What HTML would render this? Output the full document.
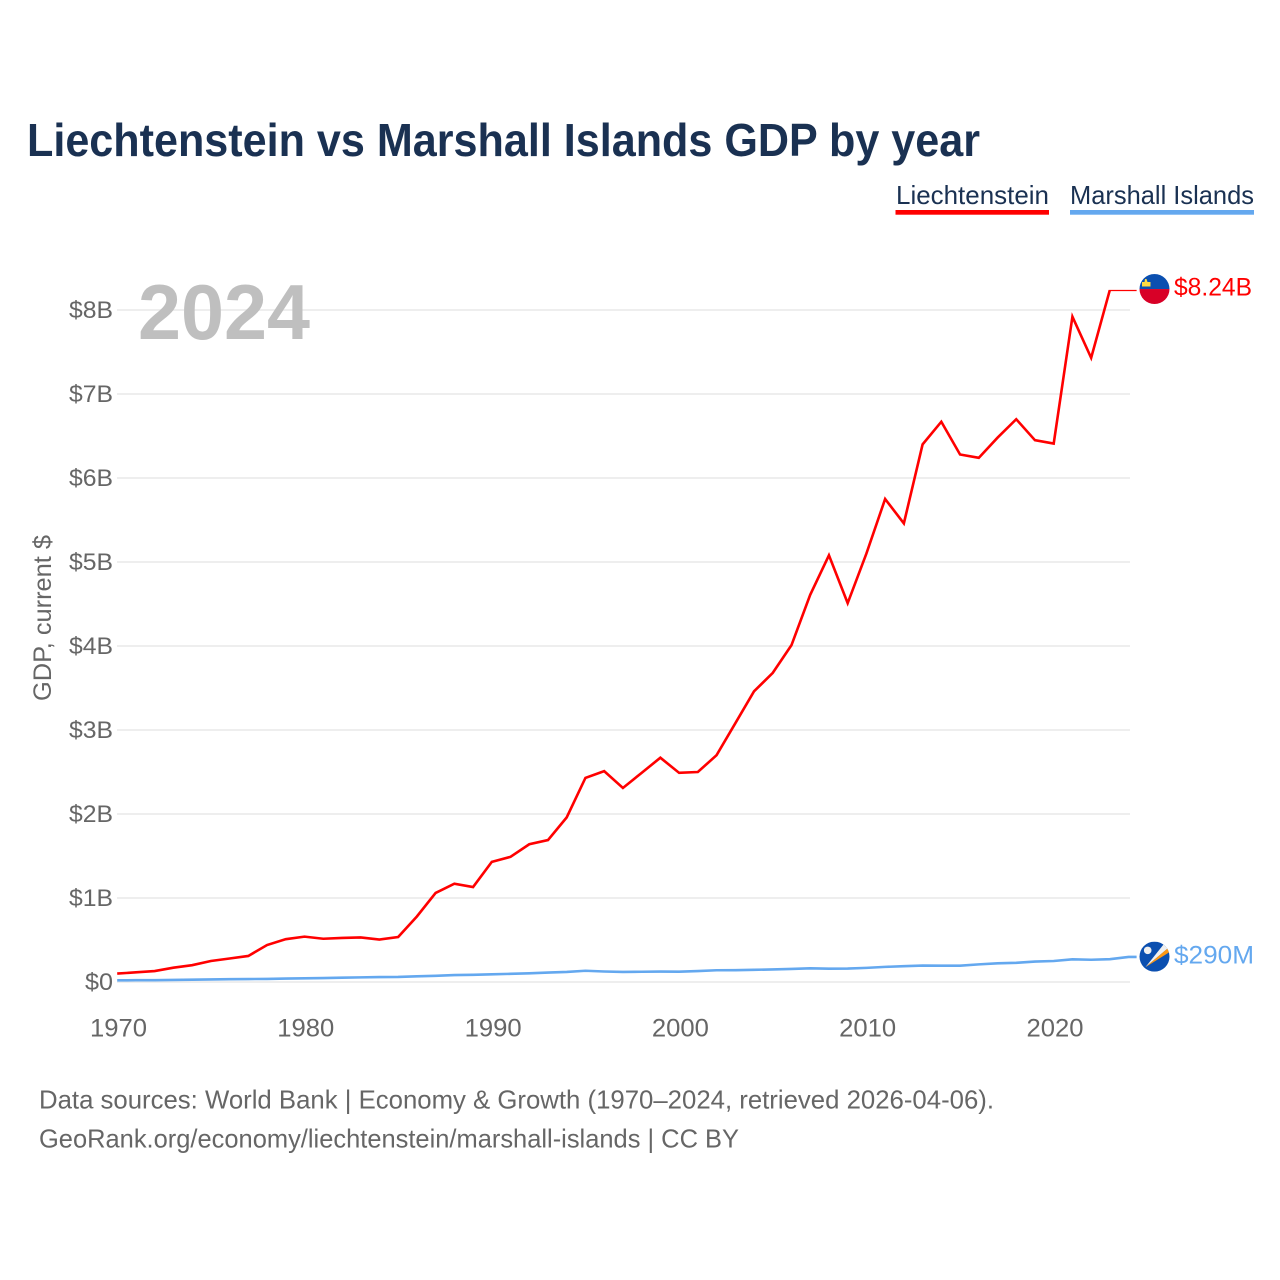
<!DOCTYPE html>
<html lang="en">
<head>
<meta charset="utf-8">
<title>Liechtenstein vs Marshall Islands GDP by year</title>
<style>
html,body{margin:0;padding:0;background:#fff}
svg{display:block}
text{font-family:"Liberation Sans",sans-serif}
</style>
</head>
<body>
<svg id="chart" xmlns="http://www.w3.org/2000/svg" width="1280" height="1280" viewBox="0 0 1280 1280">
  <rect width="1280" height="1280" fill="#fff"/>
  <text x="27" y="156" font-size="46" font-weight="700" fill="#1a3152" textLength="953" lengthAdjust="spacingAndGlyphs">Liechtenstein vs Marshall Islands GDP by year</text>
  <g>
    <g>
      <text x="896" y="204" font-size="26" fill="#1a3152" textLength="153" lengthAdjust="spacingAndGlyphs">Liechtenstein</text>
      <rect x="895.5" y="210" width="153.5" height="4.7" fill="#ff0000"/>
    </g>
    <g>
      <text x="1070" y="204" font-size="26" fill="#1a3152" textLength="184" lengthAdjust="spacingAndGlyphs">Marshall Islands</text>
      <rect x="1070" y="210" width="184" height="4.7" fill="#64a8ef"/>
    </g>
  </g>
  <g id="grid"></g>
  <g id="yticks"></g>
  <g id="xticks"></g>
  <text transform="translate(51 701) rotate(-90)" font-size="25" fill="#666" textLength="166" lengthAdjust="spacingAndGlyphs">GDP, current $</text>
  <text x="138" y="339" font-size="78" font-weight="700" fill="#bfbfbf" textLength="172" lengthAdjust="spacingAndGlyphs">2024</text>
  <defs>
    <clipPath id="plot-clip"><rect id="plot-clip-rect" x="100" y="0" width="1040" height="1000"/></clipPath>
    <clipPath id="flag-top"><circle cx="0" cy="0" r="15"/></clipPath>
  </defs>
  <g id="lines" clip-path="url(#plot-clip)"></g>
  <g id="end-markers"></g>
  <g>
    <text x="39" y="1108.5" font-size="26" fill="#666" textLength="955" lengthAdjust="spacingAndGlyphs">Data sources: World Bank | Economy &amp; Growth (1970–2024, retrieved 2026-04-06).</text>
    <text x="39" y="1147.5" font-size="26" fill="#666" textLength="700" lengthAdjust="spacingAndGlyphs">GeoRank.org/economy/liechtenstein/marshall-islands | CC BY</text>
  </g>
</svg>
<script>
const startYear = 1970;
const liechtensteinGdp = [0.10,0.115,0.13,0.17,0.20,0.25,0.28,0.31,0.44,0.51,0.54,0.515,0.525,0.53,0.505,0.535,0.78,1.06,1.17,1.13,1.43,1.49,1.64,1.69,1.96,2.43,2.51,2.31,2.49,2.67,2.49,2.50,2.70,3.08,3.46,3.68,4.01,4.61,5.08,4.51,5.10,5.75,5.46,6.40,6.67,6.28,6.24,6.48,6.70,6.45,6.41,7.92,7.43,8.24,8.24];
const marshallGdp = [0.02,0.021,0.022,0.024,0.027,0.031,0.033,0.035,0.037,0.041,0.044,0.047,0.051,0.055,0.059,0.06,0.068,0.074,0.082,0.085,0.092,0.097,0.104,0.112,0.12,0.134,0.125,0.12,0.122,0.124,0.123,0.13,0.14,0.141,0.145,0.15,0.155,0.163,0.158,0.16,0.168,0.18,0.188,0.196,0.194,0.194,0.21,0.222,0.228,0.243,0.25,0.27,0.265,0.272,0.298];
const yTickValues = [0,1,2,3,4,5,6,7,8];
const yTickLabels = ["$0","$1B","$2B","$3B","$4B","$5B","$6B","$7B","$8B"];
const xTickYears = [1970,1980,1990,2000,2010,2020];
const endLabels = ["$8.24B","$290M"];

const x = year => 117.2 + (year - startYear) * 18.73;
const y = value => 982 - value * 84;
const NS = "http://www.w3.org/2000/svg";
function make(tag, parent, attrs, txt){
  const el = document.createElementNS(NS, tag);
  for (const k in attrs) el.setAttribute(k, attrs[k]);
  if (txt !== undefined) el.textContent = txt;
  parent.appendChild(el);
  return el;
}

const grid = document.getElementById("grid");
const yticks = document.getElementById("yticks");
yTickValues.forEach((v, i) => {
  const g = make("line", grid, {x1:117, x2:1130, y1:y(v), y2:y(v), stroke:"#eeeeee", "stroke-width":2});
  
  
  const t = make("text", yticks, {x:113, y:y(v)+8, "font-size":24, fill:"#666", "text-anchor":"end"}, yTickLabels[i]);
  
  
  t.setAttribute('textLength', v === 0 ? 28 : 44);
  t.setAttribute('lengthAdjust', 'spacingAndGlyphs');
});

const xticks = document.getElementById("xticks");
xTickYears.forEach(yr => {
  const t = make("text", xticks, {x:x(yr)+1.3, y:1036.5, "font-size":25, fill:"#666", "text-anchor":"middle"}, String(yr));
  
  
  t.setAttribute('textLength', 57);
  t.setAttribute('lengthAdjust', 'spacingAndGlyphs');
});

const topValue = Math.max(...liechtensteinGdp, ...marshallGdp);
const clipRect = document.getElementById("plot-clip-rect");
clipRect.setAttribute("y", y(topValue));
clipRect.setAttribute("height", 1000 - y(topValue));

const lines = document.getElementById("lines");
function drawSeries(values, color, name){
  const lastYear = startYear + values.length - 1;
  const pts = values.map((v, i) => x(startYear + i) + "," + y(v));
  pts.push((x(lastYear) + 8) + "," + y(values[values.length - 1]));
  const p = make("polyline", lines, {points:pts.join(" "), fill:"none", stroke:color, "stroke-width":2.6, "stroke-linejoin":"miter"});
  
  
}
drawSeries(marshallGdp, "#64a8ef", "series-line-marshall-islands");
drawSeries(liechtensteinGdp, "#ff0000", "series-line-liechtenstein");

const markers = document.getElementById("end-markers");
const fx = 1154.5;

const redY = y(liechtensteinGdp[liechtensteinGdp.length - 1]) - 0.8;
const flagLi = make("g", markers, {transform:"translate(" + fx + " " + redY + ")", "clip-path":"url(#flag-top)"});


make("rect", flagLi, {x:-15, y:-15, width:30, height:15, fill:"#0b4fb0"});
make("rect", flagLi, {x:-15, y:0, width:30, height:15, fill:"#d80027"});
make("path", flagLi, {d:"M-12.5 -2.5 h8.5 v-4.5 h-3 l-1 -3 h-1.5 l-0.5 3 h-2.5 z", fill:"#ffda44"});
const redLabel = make("text", markers, {x:1174, y:redY+6.5, "font-size":25, fill:"#ff0000"}, endLabels[0]);


redLabel.setAttribute('textLength', 78);
redLabel.setAttribute('lengthAdjust', 'spacingAndGlyphs');

const blueY = y(marshallGdp[marshallGdp.length - 1]) - 0.3;
const flagMh = make("g", markers, {transform:"translate(" + fx + " " + blueY + ")", "clip-path":"url(#flag-top)"});


make("rect", flagMh, {x:-15, y:-15, width:30, height:30, fill:"#0b4fb0"});
make("path", flagMh, {d:"M-9 10.5 L10.5 -14 L13.5 -8.5 Z", fill:"#f0f0f0"});
make("path", flagMh, {d:"M-9 10.5 L13.5 -8.5 L15 -4.5 Z", fill:"#ff9811"});
make("circle", flagMh, {cx:-6.8, cy:-6.3, r:3.8, fill:"#f0f0f0"});
const blueLabel = make("text", markers, {x:1174, y:blueY+7, "font-size":25, fill:"#64a8ef"}, endLabels[1]);


blueLabel.setAttribute('textLength', 80);
blueLabel.setAttribute('lengthAdjust', 'spacingAndGlyphs');
</script>
</body>
</html>
